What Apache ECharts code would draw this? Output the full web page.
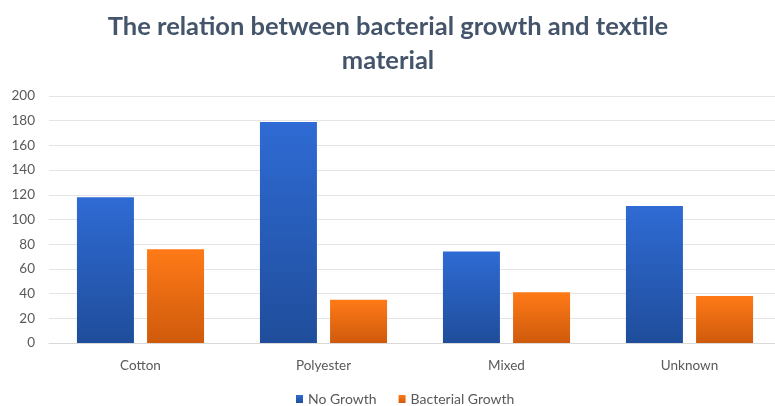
<!DOCTYPE html>
<html>
<head>
<meta charset="utf-8">
<script src="https://cdn.jsdelivr.net/npm/echarts@6/dist/echarts.min.js"></script>
<style>
  html, body { margin: 0; padding: 0; background: #ffffff; overflow: hidden; }
  /* the plot area runs slightly past the right edge of the window */
  #chart { width: 790px; height: 406px; }
</style>
</head>
<body>
<div id="chart"></div>
<script>
// Textile categories and counts per outcome
const categories = ['Cotton', 'Polyester', 'Mixed', 'Unknown'];
const noGrowth = [118, 179, 74, 111];
const bacterialGrowth = [76, 35, 41, 38];
const seriesNames = ['No Growth', 'Bacterial Growth'];

const chart = echarts.init(document.getElementById('chart'));

function vGrad(top, bottom) {
  return new echarts.graphic.LinearGradient(0, 0, 0, 1, [
    { offset: 0, color: top },
    { offset: 1, color: bottom }
  ]);
}

const labelFont = 'Lato, "Open Sans", sans-serif';

chart.setOption({
  backgroundColor: '#ffffff',
  animation: false,
  title: {
    text: 'The relation between bacterial growth and textile\nmaterial',
    left: 383,
    top: 5,
    textAlign: 'center',
    textStyle: {
      fontFamily: labelFont,
      fontWeight: 'bold',
      fontSize: 25.5,
      color: '#44546a',
      lineHeight: 34
    }
  },
  legend: {
    top: 387,
    left: 291,
    itemWidth: 7,
    itemHeight: 8,
    itemGap: 22,
    icon: 'rect',
    textStyle: { fontFamily: labelFont, fontSize: 14, color: '#595959' },
    data: seriesNames
  },
  grid: { left: 49, width: 732, top: 96, height: 247 },
  xAxis: {
    type: 'category',
    data: categories,
    axisTick: { show: false },
    axisLine: { lineStyle: { color: '#d9d9d9' } },
    axisLabel: { fontFamily: labelFont, fontSize: 13.5, color: '#595959', margin: 16 }
  },
  yAxis: {
    type: 'value',
    min: 0,
    max: 200,
    interval: 20,
    axisLine: { show: false },
    axisTick: { show: false },
    axisLabel: { fontFamily: labelFont, fontSize: 13.5, color: '#595959', margin: 14 },
    splitLine: { lineStyle: { color: '#e4e4e4' } }
  },
  series: [
    {
      name: seriesNames[0],
      type: 'bar',
      data: noGrowth,
      barWidth: 57,
      barGap: '23%',
      itemStyle: { color: vGrad('#2f6bd4', '#1f4d9b') }
    },
    {
      name: seriesNames[1],
      type: 'bar',
      data: bacterialGrowth,
      barWidth: 57,
      itemStyle: { color: vGrad('#ff7a17', '#cf5a0c') }
    }
  ]
});
</script>
</body>
</html>
